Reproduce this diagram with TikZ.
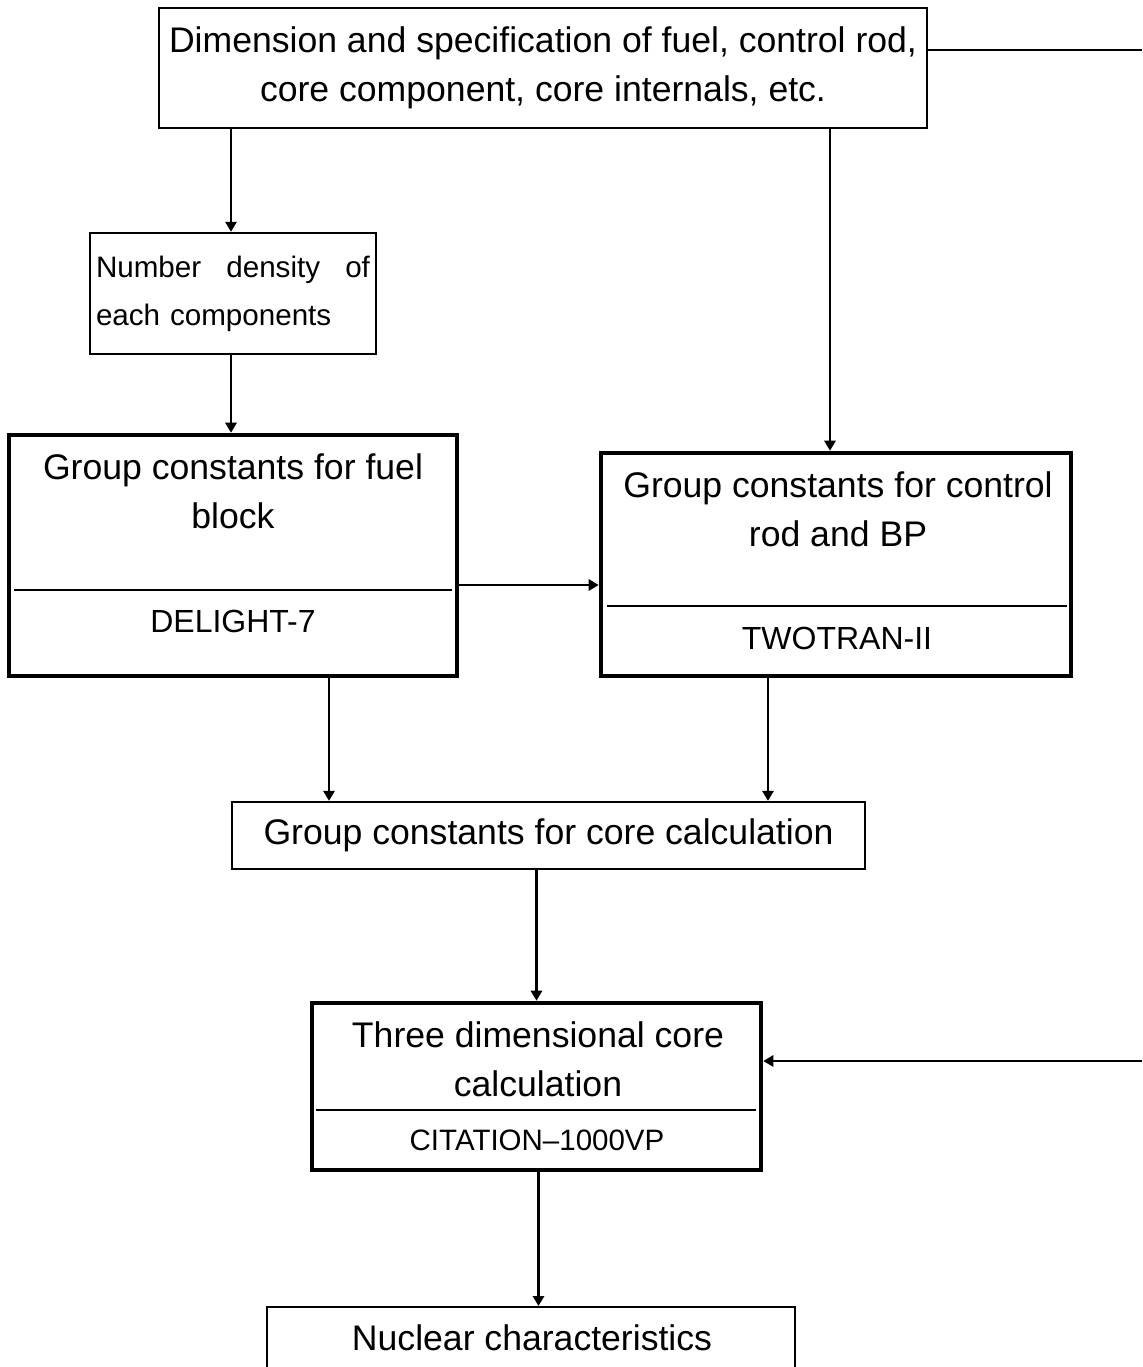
\documentclass[tikz,border=0pt]{standalone}
\usepackage{fontspec}
\setmainfont{Liberation Sans}
\usetikzlibrary{arrows.meta}
\usetikzlibrary{positioning}

\begin{document}
\begin{tikzpicture}[x=0.5pt,y=-0.5pt,
  thinbox/.style={draw, line width=1.2pt, inner sep=0pt},
  thickbox/.style={draw, line width=2.3pt, inner sep=0pt},
  maintext/.style={font=\fontsize{17.8pt}{24.5pt}\selectfont, align=center, inner sep=0pt},
  codetext/.style={font=\fontsize{16pt}{20pt}\selectfont, inner sep=0pt},
  flow/.style={-{Triangle[length=5pt,width=5.6pt]}, line width=1.2pt}]
\clip (0,0) rectangle (1142,1367);
% boxes
\node[thinbox, maintext, minimum width=384pt, minimum height=60pt] (spec) at (543,68)
  {Dimension and specification of fuel, control rod,\\core component, core internals, etc.};
\node[thinbox, font=\fontsize{14.8pt}{24pt}\selectfont, text width=137pt, inner xsep=3pt,
  minimum height=60.5pt] (dens) at (233,293.5)
  {Number\hfill density\hfill of\\each components};
\node[thickbox, minimum width=224pt, minimum height=120.5pt] (fuel) at (233,555.5) {};
\node[maintext] (fueltext) at (233,491.5) {Group constants for fuel\\block};
\node[codetext] (fuelcode) at (233,621) {DELIGHT-7};
\node[thickbox, minimum width=235pt, minimum height=111.5pt] (rod) at (836,564.5) {};
\node[maintext] (rodtext) at (838,509) {Group constants for control\\rod and BP};
\node[codetext] (rodcode) at (837,638) {TWOTRAN-II};
\node[thinbox, maintext, minimum width=316.5pt, minimum height=33.5pt] (core) at (548.5,835.5)
  {Group constants for core calculation};
\node[thickbox, minimum width=224.5pt, minimum height=83.5pt] (three) at (536.5,1086.5) {};
\node[maintext] (threetext) at (538,1059) {Three dimensional core\\calculation};
\node[codetext, font=\fontsize{14.75pt}{18pt}\selectfont] (threecode) at (537,1140)
  {CITATION\textendash 1000VP};
\node[thinbox, anchor=north, minimum width=264pt, minimum height=60pt] (nuc) at (531,1306) {};
\node[maintext] (nuctext) at (532,1338) {Nuclear characteristics};
% dividers
\coordinate (fuelsep) at (233,590);
\coordinate (rodsep) at (836,606);
\coordinate (threesep) at (536,1110);
\draw[line width=1pt] ([xshift=3.5pt]fuel.west |- fuelsep) -- ([xshift=-3.5pt]fuel.east |- fuelsep);
\draw[line width=1pt] ([xshift=4pt]rod.west |- rodsep) -- ([xshift=-3pt]rod.east |- rodsep);
\draw[line width=1pt] ([xshift=3pt]three.west |- threesep) -- ([xshift=-3.5pt]three.east |- threesep);
% connectors
\coordinate (link) at (529,585);
\coordinate (fbtop) at (1142,50);
\coordinate (fbbot) at (1142,1061);
\draw[flow] ([xshift=-1pt]spec.south -| dens.north) -- ([xshift=-1pt]dens.north);
\draw[flow] ([xshift=-3pt]spec.south -| rod.north) -- ([xshift=-3pt]rod.north);
\draw[flow] ([xshift=-1pt]dens.south) -- ([xshift=-1pt]fuel.north);
\draw[flow] (fuel.east |- link) -- (rod.west |- link);
\draw[flow] ([xshift=48pt]fuel.south) -- ([xshift=48pt]fuel.south |- core.north);
\draw[flow] ([xshift=-34pt]rod.south) -- ([xshift=-34pt]rod.south |- core.north);
\draw[flow] (core.south -| three.north) -- (three.north);
\draw[flow] ([xshift=1pt]three.south) -- ([xshift=1pt]three.south |- nuc.north);
\draw[line width=1.2pt] (spec.east |- fbtop) -- (fbtop);
\draw[flow] (fbbot) -- (three.east |- fbbot);
\end{tikzpicture}
\end{document}
